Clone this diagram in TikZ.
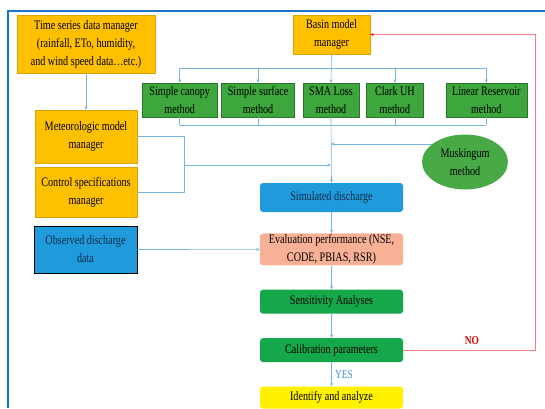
\documentclass[tikz,border=0pt]{standalone}
\usepackage{fontspec}
\setmainfont{Liberation Serif}[FakeStretch=0.78]
\usetikzlibrary{positioning,shapes.geometric,arrows.meta,calc}
\definecolor{mgr}{HTML}{FFC000}
\definecolor{meth}{HTML}{3DA63D}
\definecolor{proc}{HTML}{14A84A}
\definecolor{simblue}{HTML}{1F9BDB}
\definecolor{evalc}{HTML}{F8B196}
\definecolor{flowc}{HTML}{74B6E2}
\definecolor{yesc}{HTML}{3A8ED4}
\definecolor{framec}{HTML}{1874CD}
\definecolor{noline}{HTML}{F07C86}
\definecolor{navy}{HTML}{0E2A47}

\begin{document}
\begin{tikzpicture}[>={Stealth[length=3.5pt,width=3pt]}, x=1pt, y=-1pt, font=\fontsize{13}{18}\selectfont]
\tikzstyle{mgrbox}=[draw=mgr!85!black, fill=mgr, align=center, inner sep=1pt, line width=0.4pt]
\tikzstyle{methbox}=[draw=meth!70!black, fill=meth, align=center, inner sep=1pt, minimum height=34pt, line width=0.4pt]
\tikzstyle{procbox}=[fill=#1, rounded corners=3pt, align=center, minimum width=143pt, inner sep=1pt]
\tikzstyle{flow}=[draw=flowc, line width=0.6pt]
\useasboundingbox (0,0) rectangle (545,408);
% frame
\draw[framec, line width=1.5pt] (8,408) -- (8,11) -- (545,11);

% managers
\node[mgrbox, minimum width=138pt, minimum height=58pt] (ts) at (86,44) {Time series data manager\\(rainfall, ETo, humidity,\\and wind speed data\ldots etc.)};
\node[mgrbox, minimum width=77pt, minimum height=39pt] (basin) at (331.5,34.5) {Basin model\\manager};
\node[mgrbox, minimum width=102pt, minimum height=53pt] (met) at (86,136.5) {Meteorologic model\\manager};
\node[mgrbox, minimum width=102pt, minimum height=50pt, below=4pt of met] (ctrl) {Control specifications\\manager};
\node[draw=black, fill=simblue, text=navy, line width=0.8pt, align=center, minimum width=103pt, minimum height=47pt, inner sep=1pt] (obs) at (85.5,249.5) {Observed discharge\\data};

% methods
\node[methbox, minimum width=56pt] (sma) at (331,100) {SMA Loss\\method};
\node[methbox, minimum width=73pt, left=8pt of sma] (surface) {Simple surface\\method};
\node[methbox, minimum width=75pt, left=4pt of surface] (canopy) {Simple canopy\\method};
\node[methbox, minimum width=57pt, right=7pt of sma] (clark) {Clark UH\\method};
\node[methbox, minimum width=81pt, right=22pt of clark] (linres) {Linear Reservoir\\method};
\node[ellipse, fill=meth!95!white, minimum width=86pt, minimum height=55pt, inner sep=0pt, align=center] (musk) at (465,162) {Muskingum\\method};

% main column
\node[procbox=simblue, text=navy, minimum height=29pt] (sim) at (331.5,197.5) {Simulated discharge};
\node[procbox=evalc, minimum height=31pt, below=21pt of sim] (eval) {Evaluation performance (NSE,\\CODE, PBIAS, RSR)};
\node[procbox=proc, minimum height=24pt, below=24pt of eval] (sens) {Sensitivity Analyses};
\node[procbox=proc, minimum height=24pt, below=24pt of sens] (calib) {Calibration parameters};
\node[procbox=yellow, minimum height=22pt, below=24pt of calib] (ident) {Identify and analyze};

% buses
\coordinate (topbus) at (0,68);
\coordinate (lowbus) at (0,125);
\coordinate (bracket) at (184,165);
\coordinate (nocorner) at (535,0);

\draw[flow] (canopy.north |- topbus) -- (linres.north |- topbus);
\draw[flow] (canopy.south |- lowbus) -- (linres.south |- lowbus);
\foreach \m in {canopy,surface,clark,linres}{
  \draw[flow, ->] (\m.north |- topbus) -- (\m.north);
  \draw[flow] (\m.south) -- (\m.south |- lowbus);
}
\draw[flow, ->] (basin.south) -- (sma.north);
\draw[flow, ->] (ts.south) -- (met.north);
\draw[flow] (met.east) -- (met.east -| bracket) -- (ctrl.east -| bracket) -- (ctrl.east);
\draw[flow, ->] (bracket) -- (bracket -| sma);
\draw[flow, ->] (musk.151) -- (musk.151 -| sma);
\draw[flow, ->] (sma.south) -- (sim.north);
\draw[flow, ->] (sim) -- (eval);
\draw[flow, ->] (obs) -- (eval);
\draw[flow, ->] (eval) -- (sens);
\draw[flow, ->] (sens) -- (calib);
\draw[flow, ->] (calib) -- node[right, text=yesc, font=\fontsize{12}{12}\selectfont] {YES} (ident);

% loop back
\draw[noline, line width=0.8pt, -{Stealth[length=3.5pt,width=3pt,red]}] (calib.east) -- (calib.east -| nocorner)
  -- (basin.east -| nocorner) -- (basin.east);
\node[text=red!85!black, font=\bfseries\fontsize{12}{12}\selectfont] (no) at (472,341) {NO};
\end{tikzpicture}
\end{document}
